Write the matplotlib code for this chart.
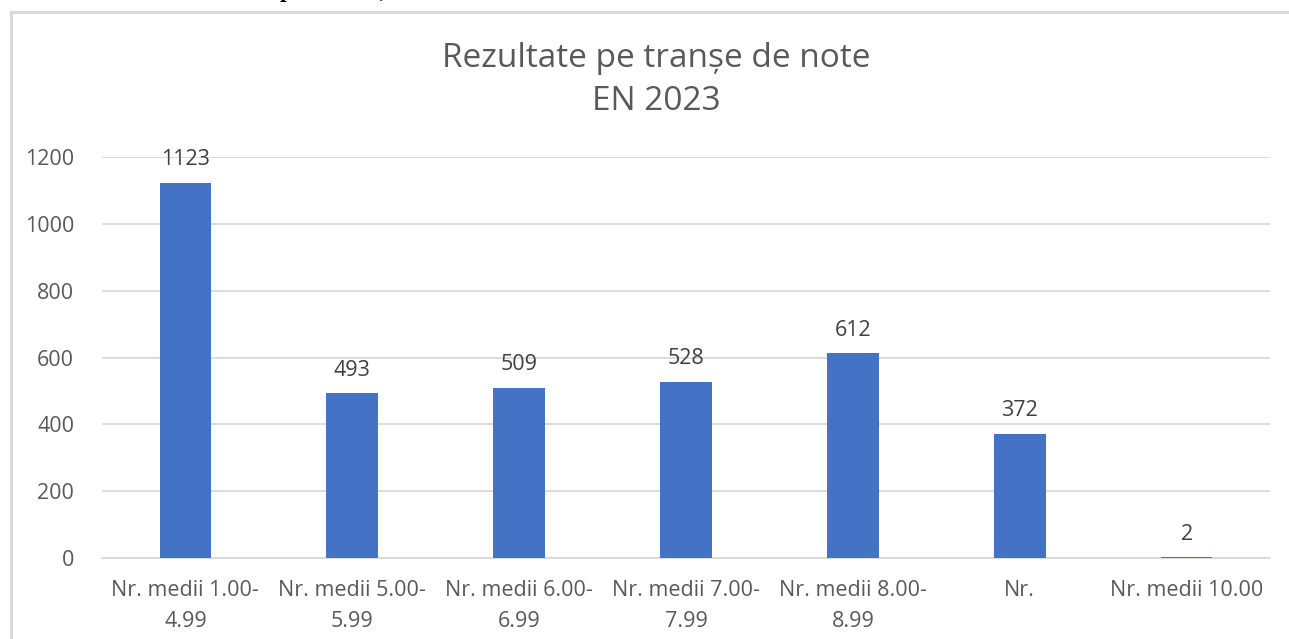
import matplotlib.pyplot as plt
from matplotlib.patches import Rectangle

categories = ['Nr. medii 1.00-\n4.99', 'Nr. medii 5.00-\n5.99', 'Nr. medii 6.00-\n6.99',
              'Nr. medii 7.00-\n7.99', 'Nr. medii 8.00-\n8.99', 'Nr.', 'Nr. medii 10.00']
values = [1123, 493, 509, 528, 612, 372, 2]
yticks = [0, 200, 400, 600, 800, 1000, 1200]
title = 'Rezultate pe tranșe de note\nEN 2023'

bar_color = '#4472C4'
txt_color = '#595959'
grid_color = '#d9d9d9'
plt.rcParams['font.family'] = ['Open Sans', 'DejaVu Sans']

W, H = 1289, 639
fig = plt.figure(figsize=(W / 100, H / 100), dpi=100)

# chart frame (cut by the screenshot on right and bottom)
fig.patches.append(Rectangle((11 / W, -0.1), 1.2, 1 - 12 / H + 0.1, transform=fig.transFigure,
                             fill=False, edgecolor=grid_color, linewidth=2.2))

# leftovers of the document text above the chart
fig.text(280 / W, 1 + 3 / H, 'p', family='Liberation Serif', weight='bold', fontsize=17, va='baseline')
fig.text(380 / W, 1 + 3 / H, ',', family='Liberation Serif', weight='bold', fontsize=17, va='baseline')

ax = fig.add_axes([102 / W, 1 - 558 / H, 1168 / W, 401 / H])
x = range(len(values))
bars = ax.bar(x, values, width=0.31, color=bar_color, zorder=3)
for xi, v in zip(x, values):
    ax.annotate(str(v), (xi, v), xytext=(0, 9), textcoords='offset points',
                ha='center', va='bottom', fontsize=15.5, color='#404040')

ax.set_xlim(-0.5, len(values) - 0.5)
ax.set_ylim(0, 1200)
ax.set_yticks(yticks)
ax.set_yticklabels([str(t) for t in yticks], fontsize=15.5, color=txt_color)
ax.set_xticks(list(x))
ax.set_xticklabels(categories, fontsize=15.5, color=txt_color, linespacing=1.6)
ax.tick_params(axis='both', length=0)
ax.tick_params(axis='y', pad=20)
ax.tick_params(axis='x', pad=16)
ax.grid(axis='y', color=grid_color, linewidth=1.3, zorder=0)
for s in ['top', 'right', 'left']:
    ax.spines[s].set_visible(False)
ax.spines['bottom'].set_color(grid_color)
ax.spines['bottom'].set_linewidth(1.3)

fig.text(656 / W, 1 - 80 / H, title, ha='center', va='center', fontsize=24,
         color=txt_color, linespacing=1.42)

fig.savefig('out.png', dpi=100)
